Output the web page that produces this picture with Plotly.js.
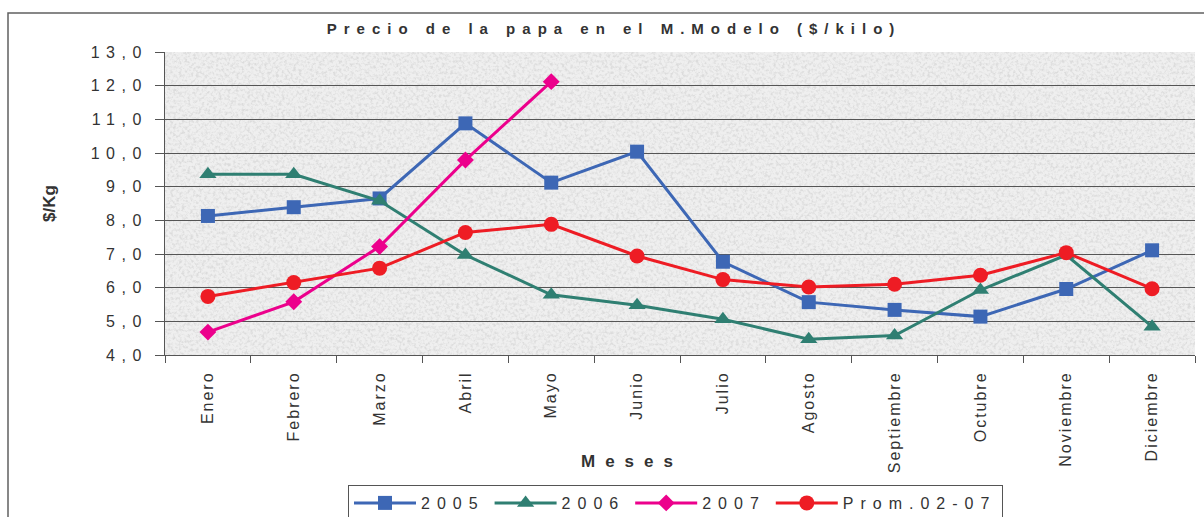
<!DOCTYPE html>
<html>
<head>
<meta charset="utf-8">
<script src="https://cdn.plot.ly/plotly-3.0.1.min.js"></script>
<style>
  html, body { margin: 0; padding: 0; background: #ffffff; }
  #chart { width: 1204px; height: 517px; }
  .gtitle { letter-spacing: 7px; }
  .ytick text { letter-spacing: 6.5px; }
  .xtick text { letter-spacing: 2px; }
  text.legendtext { letter-spacing: 7px; }
  .annotation-text.spaced { letter-spacing: 10px; }
</style>
</head>
<body>
<div id="chart"></div>
<script>
const months = ['Enero', 'Febrero', 'Marzo', 'Abril', 'Mayo', 'Junio', 'Julio', 'Agosto', 'Septiembre', 'Octubre', 'Noviembre', 'Diciembre'];
const y2005 = [8.13, 8.39, 8.65, 10.88, 9.12, 10.04, 6.77, 5.57, 5.34, 5.14, 5.96, 7.11];
const y2006 = [9.37, 9.37, 8.58, 6.97, 5.79, 5.48, 5.06, 4.47, 4.58, 5.93, 6.97, 4.84];
const y2007 = [4.68, 5.58, 7.22, 9.79, 12.12];
const yProm = [5.74, 6.15, 6.58, 7.64, 7.88, 6.94, 6.24, 6.02, 6.1, 6.37, 7.04, 5.97];
const seriesNames = ['2005', '2006', '2007', 'Prom.02-07'];

const FONT = 'Liberation Sans, Arial, sans-serif';
const TXT = '#333333';

const texture = "data:image/svg+xml;utf8," + encodeURIComponent(
  "<svg xmlns='http://www.w3.org/2000/svg' width='1030' height='303' viewBox='0 0 1030 303' preserveAspectRatio='none'>" +
  "<filter id='n' x='0' y='0' width='100%' height='100%'>" +
  "<feTurbulence type='fractalNoise' baseFrequency='0.35' numOctaves='3' seed='7'/>" +
  "<feColorMatrix type='matrix' values='0 0 0 0 0.6  0 0 0 0 0.6  0 0 0 0 0.6  3.2 0 0 0 -1.4'/>" +
  "</filter>" +
  "<rect width='1030' height='303' fill='#efefef'/>" +
  "<rect width='1030' height='303' filter='url(#n)' opacity='0.5'/>" +
  "</svg>");

const traces = [
  { x: months, y: y2005, name: seriesNames[0], type: 'scatter', mode: 'lines+markers',
    line: { color: '#3d67b5', width: 3 }, marker: { symbol: 'square', size: 14, color: '#3d67b5' } },
  { x: months, y: y2006, name: seriesNames[1], type: 'scatter', mode: 'lines+markers',
    line: { color: '#2f7f72', width: 3 }, marker: { symbol: 'triangle-up', size: 15, color: '#2f7f72' } },
  { x: months.slice(0, y2007.length), y: y2007, name: seriesNames[2], type: 'scatter', mode: 'lines+markers',
    line: { color: '#ec008c', width: 3 }, marker: { symbol: 'diamond', size: 13, color: '#ec008c' } },
  { x: months, y: yProm, name: seriesNames[3], type: 'scatter', mode: 'lines+markers',
    line: { color: '#ee1c24', width: 3 }, marker: { symbol: 'circle', size: 15, color: '#ee1c24' } }
];

const layout = {
  width: 1204, height: 517,
  margin: { l: 165, r: 9, t: 52, b: 162, autoexpand: false },
  paper_bgcolor: '#ffffff',
  plot_bgcolor: '#efefef',
  separators: ', ',
  font: { family: FONT, color: TXT, size: 16 },
  title: { text: 'Precio de la papa en el M.Modelo ($/kilo)', x: 0.51, xref: 'container', xanchor: 'center',
           y: 1 - 29 / 517, yref: 'container', yanchor: 'middle',
           font: { family: FONT, size: 15, weight: 'bold', color: TXT } },
  xaxis: {
    type: 'category', showgrid: false, showline: true, linecolor: '#555555', linewidth: 1,
    ticks: 'outside', tickson: 'boundaries', ticklen: 7, tickcolor: '#555555',
    tickangle: -90, tickfont: { family: FONT, size: 16, color: TXT }, ticklabelstandoff: 9,
    range: [-0.5, 11.5], fixedrange: true, automargin: false
  },
  yaxis: {
    range: [4, 13], dtick: 1, tickformat: '.1f', showline: true, linecolor: '#555555', linewidth: 1,
    ticks: 'outside', ticklen: 9, tickcolor: '#555555',
    showgrid: true, gridcolor: '#555555', gridwidth: 1, zeroline: false,
    tickfont: { family: FONT, size: 16, color: TXT }, ticklabelstandoff: 4, automargin: false,
    title: { text: '$/Kg', font: { family: FONT, size: 17, weight: 'bold', color: TXT }, standoff: 30 }
  },
  images: [{ source: texture, xref: 'x domain', yref: 'y domain', x: 0, y: 1, sizex: 1, sizey: 1,
             sizing: 'stretch', xanchor: 'left', yanchor: 'top', layer: 'below' }],
  annotations: [{ text: 'Meses', xref: 'paper', yref: 'paper',
                  x: (632 - 165) / 1030, y: (355 - 461) / 303, xanchor: 'center', yanchor: 'middle',
                  showarrow: false, font: { family: FONT, size: 17, weight: 'bold', color: TXT } }],
  shapes: [{ type: 'rect', xref: 'paper', yref: 'paper',
             x0: (8 - 165) / 1030, x1: 1.05, y0: -0.7, y1: 1 + (52 - 13) / 303,
             line: { color: '#606060', width: 1.5 }, fillcolor: 'rgba(0,0,0,0)', layer: 'below' }],
  showlegend: true,
  legend: {
    orientation: 'h', x: (348 - 165) / 1030, xanchor: 'left', y: (355 - 485) / 303, yanchor: 'top',
    bordercolor: '#555555', borderwidth: 1, bgcolor: '#ffffff',
    font: { family: FONT, size: 16, color: TXT }, itemwidth: 62, tracegroupgap: 0
  }
};

Plotly.newPlot('chart', traces, layout, { displayModeBar: false, staticPlot: true }).then(function (gd) {
  gd.querySelectorAll('.annotation-text').forEach(function (t) { t.classList.add('spaced'); });
});
</script>
</body>
</html>
